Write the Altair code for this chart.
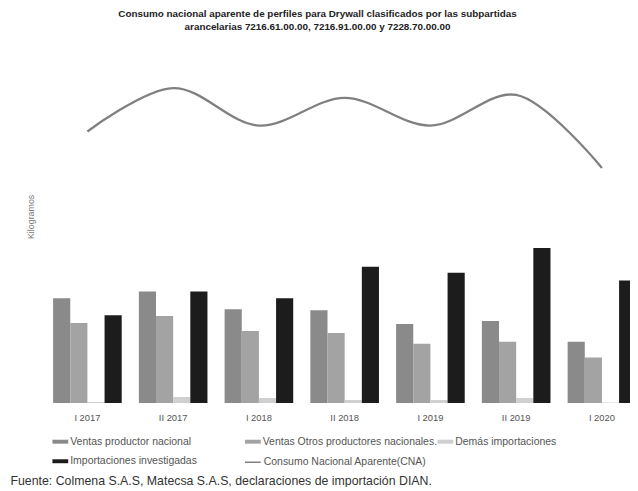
import altair as alt
import pandas as pd

periodos = ["I 2017", "II 2017", "I 2018", "II 2018", "I 2019", "II 2019", "I 2020"]
series = [
    "Ventas productor nacional",
    "Ventas Otros productores nacionales.",
    "Demás importaciones",
    "Importaciones investigadas",
]
ventas_prod = [1060, 1130, 950, 940, 800, 830, 620]
ventas_otros = [810, 880, 730, 710, 600, 620, 460]
demas_imp = [10, 60, 50, 30, 30, 50, 5]
imp_invest = [890, 1130, 1060, 1380, 1320, 1570, 1240]
cna = [2750, 3190, 2810, 3090, 2810, 3120, 2380]
cna_label = "Consumo Nacional Aparente(CNA)"
colores = ["#8a8a8a", "#a3a3a3", "#cfcfcf", "#1c1c1c"]

FONT = "Liberation Sans"
LEG_FS = 10.6

rows = []
for serie, vals in zip(series, [ventas_prod, ventas_otros, demas_imp, imp_invest]):
    for p, v in zip(periodos, vals):
        rows.append({"periodo": p, "serie": serie, "valor": v})
df_bars = pd.DataFrame(rows)
df_a = df_bars[df_bars["serie"] != series[3]]
df_b = df_bars[df_bars["serie"] == series[3]]
df_line = pd.DataFrame({"periodo": periodos, "valor": cna, "nombre": [cna_label] * len(periodos)})

x_enc = alt.X(
    "periodo:N",
    sort=periodos,
    scale=alt.Scale(range=[0, 608], paddingInner=0.2, paddingOuter=0.1),
    axis=alt.Axis(
        title="Fuente: Colmena S.A.S, Matecsa S.A.S, declaraciones de importación DIAN.",
        titleFont=FONT, titleFontSize=12.5, titleFontWeight="normal", titleColor="#333333",
        titleAnchor="start", titleAlign="left", titleX=-35, titleY=83, titleBaseline="alphabetic",
        labelAngle=0, labelFont=FONT, labelFontSize=9.5, labelColor="#555555", labelPadding=10,
        ticks=False, domain=False, grid=False,
    ),
)
y_enc = alt.Y(
    "valor:Q",
    scale=alt.Scale(domain=[0, 3500]),
    axis=alt.Axis(
        title="Kilogramos", titleFont=FONT, titleFontSize=9, titleFontWeight="normal",
        titleColor="#777777", titleX=-9, titleY=161, titleAngle=270,
        labels=False, ticks=False, domain=False, grid=False,
    ),
)
xoff = alt.XOffset("serie:N", scale=alt.Scale(domain=series, paddingInner=0, paddingOuter=0))

leg_common = dict(
    title=None, orient="none", padding=0, labelOffset=2,
    labelFont=FONT, labelFontSize=LEG_FS, labelColor="#555555", labelLimit=300,
)

bars_a = alt.Chart(df_a).mark_bar(clip=True).encode(
    x=x_enc,
    xOffset=xoff,
    y=y_enc,
    color=alt.Color(
        "serie:N",
        scale=alt.Scale(domain=series[:3], range=colores[:3]),
        legend=alt.Legend(
            legendX=8, legendY=381, direction="horizontal", columns=3, gridAlign="all",
            columnPadding=0,
            symbolType="M-1,-0.25H1V0.25H-1Z", symbolSize=256, symbolStrokeWidth=0,
            **leg_common,
        ),
    ),
)

bars_b = alt.Chart(df_b).mark_bar(clip=True).encode(
    x=alt.X("periodo:N", sort=periodos),
    xOffset=xoff,
    y=alt.Y("valor:Q"),
    fill=alt.Fill(
        "serie:N",
        scale=alt.Scale(domain=series[3:], range=colores[3:]),
        legend=alt.Legend(
            legendX=8, legendY=401,
            symbolType="M-1,-0.25H1V0.25H-1Z", symbolSize=256, symbolStrokeWidth=0,
            **leg_common,
        ),
    ),
)

line = alt.Chart(df_line).mark_line(interpolate="catmull-rom", strokeWidth=2.3, clip=True).encode(
    x=alt.X("periodo:N", sort=periodos),
    y=alt.Y("valor:Q"),
    stroke=alt.Stroke(
        "nombre:N",
        scale=alt.Scale(domain=[cna_label], range=["#808080"]),
        legend=alt.Legend(
            legendX=202, legendY=401,
            symbolType="stroke", symbolSize=256, symbolStrokeWidth=1.5,
            **leg_common,
        ),
    ),
)

chart = alt.layer(bars_a, bars_b, line).properties(
    width=593,
    height=350,
    autosize=alt.AutoSizeParams(type="none"),
    padding={"left": 37, "top": 47, "right": 0, "bottom": 82},
    title=alt.TitleParams(
        text=[
            "Consumo nacional aparente de perfiles para Drywall clasificados por las subpartidas",
            "arancelarias 7216.61.00.00, 7216.91.00.00 y 7228.70.00.00",
        ],
        font=FONT, fontSize=10, fontWeight="bold", color="#222222",
        anchor="middle", dx=-20, offset=26, lineHeight=13,
    ),
).configure_view(stroke=None)

chart.save("out.html", embed_options={"renderer": "svg", "actions": False})
